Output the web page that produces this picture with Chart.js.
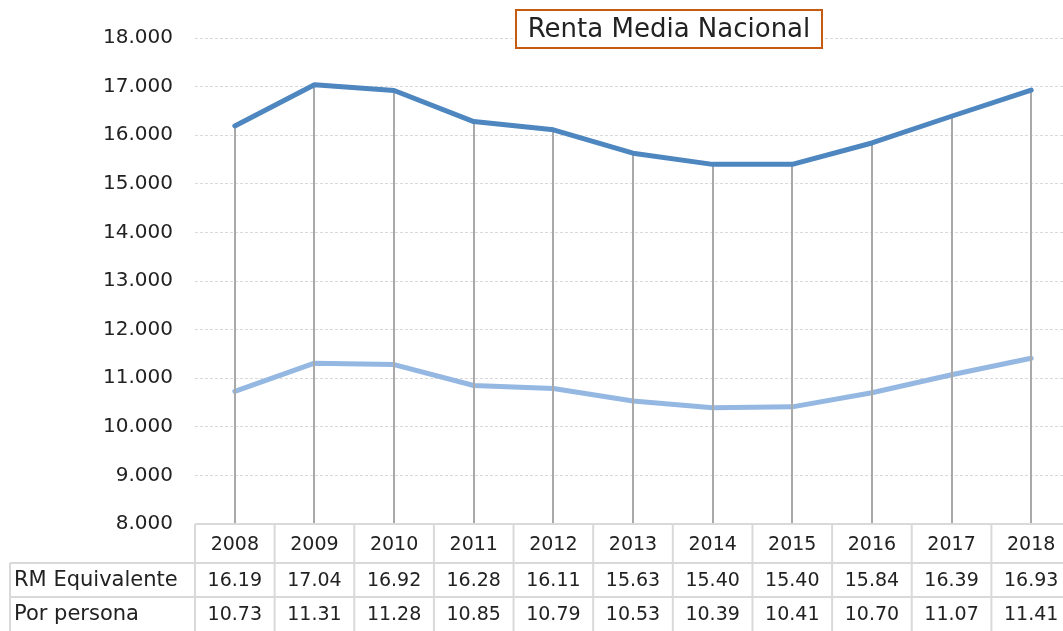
<!DOCTYPE html>
<html>
<head>
<meta charset="utf-8">
<script src="https://cdn.jsdelivr.net/npm/chart.js@4.4.1/dist/chart.umd.min.js"></script>
<style>
  html, body { margin: 0; padding: 0; background: #fff; overflow: hidden; }
  #wrap { width: 1071px; height: 631px; position: relative; }
</style>
</head>
<body>
<div id="wrap"><canvas id="chart"></canvas></div>
<script>
const years = ['2008', '2009', '2010', '2011', '2012', '2013', '2014', '2015', '2016', '2017', '2018'];
const rmEquivalente = [16190, 17040, 16920, 16280, 16110, 15630, 15400, 15400, 15840, 16390, 16930];
const porPersona = [10730, 11310, 11280, 10850, 10790, 10530, 10390, 10410, 10700, 11070, 11410];
const seriesNames = ['RM Equivalente', 'Por persona'];
const chartTitle = 'Renta Media Nacional';

const FONT = '"DejaVu Sans", "Open Sans", sans-serif';

function fmtThousands(v) {
  return Math.round(v).toString().replace(/\B(?=(\d{3})+(?!\d))/g, '.');
}

// vertical drop lines: drawn above the light series, below the dark one
const dropLines = {
  id: 'dropLines',
  afterDatasetDraw(chart, args) {
    if (args.index !== 1) return;
    const ctx = chart.ctx;
    const meta0 = chart.getDatasetMeta(0);
    const bottom = chart.chartArea.bottom;
    ctx.save();
    ctx.strokeStyle = '#a9a9a9';
    ctx.lineWidth = 2;
    meta0.data.forEach(function(pt) {
      ctx.beginPath();
      ctx.moveTo(Math.round(pt.x), pt.y);
      ctx.lineTo(Math.round(pt.x), bottom);
      ctx.stroke();
    });
    ctx.restore();
  }
};

// title with orange box
const boxedTitle = {
  id: 'boxedTitle',
  afterDraw(chart) {
    const ctx = chart.ctx;
    ctx.save();
    ctx.font = '26px ' + FONT;
    const cx = 669, cy = 29;
    const bw = 306, bh = 38;
    ctx.fillStyle = '#fff';
    ctx.fillRect(cx - bw / 2, cy - bh / 2, bw, bh);
    ctx.strokeStyle = '#c55a11';
    ctx.lineWidth = 2;
    ctx.strokeRect(cx - bw / 2, cy - bh / 2, bw, bh);
    ctx.fillStyle = '#222';
    ctx.textAlign = 'center';
    ctx.textBaseline = 'middle';
    ctx.fillText(chartTitle, cx, cy + 1);
    ctx.restore();
  }
};

// data table under the plot
const dataTable = {
  id: 'dataTable',
  afterDraw(chart) {
    const ctx = chart.ctx;
    const x = chart.scales.x;
    const area = chart.chartArea;
    const colW = (area.right - area.left) / years.length;
    const top = area.bottom;
    const rows = [top, top + 39, top + 73, top + 107];
    const labelLeft = 10;
    ctx.save();
    ctx.strokeStyle = '#d9d9d9';
    ctx.lineWidth = 2;
    ctx.beginPath();
    ctx.moveTo(area.left, rows[0]); ctx.lineTo(area.right, rows[0]);
    ctx.moveTo(labelLeft, rows[1]); ctx.lineTo(area.right, rows[1]);
    ctx.moveTo(labelLeft, rows[2]); ctx.lineTo(area.right, rows[2]);
    ctx.stroke();
    ctx.beginPath();
    for (let i = 0; i <= years.length; i++) {
      const lx = area.left + i * colW;
      ctx.moveTo(lx, rows[0]); ctx.lineTo(lx, rows[3]);
    }
    ctx.moveTo(labelLeft, rows[1]); ctx.lineTo(labelLeft, rows[3]);
    ctx.stroke();

    ctx.fillStyle = '#222';
    ctx.font = '19px ' + FONT;
    ctx.textBaseline = 'middle';
    ctx.textAlign = 'center';
    years.forEach(function(y, i) {
      const cx = x.getPixelForValue(i);
      ctx.fillText(y, cx, (rows[0] + rows[1]) / 2 + 2);
      ctx.fillText((rmEquivalente[i] / 1000).toFixed(2), cx, (rows[1] + rows[2]) / 2 + 1);
      ctx.fillText((porPersona[i] / 1000).toFixed(2), cx, (rows[2] + rows[3]) / 2 + 1);
    });
    ctx.textAlign = 'left';
    ctx.font = '21px ' + FONT;
    ctx.fillText(seriesNames[0], 14, (rows[1] + rows[2]) / 2 + 1);
    ctx.fillText(seriesNames[1], 14, (rows[2] + rows[3]) / 2 + 1);
    ctx.restore();
  }
};

new Chart(document.getElementById('chart'), {
  type: 'line',
  data: {
    labels: years,
    datasets: [{
      label: seriesNames[0],
      data: rmEquivalente,
      borderColor: '#4e86bf',
      borderWidth: 5,
      borderCapStyle: 'round',
      borderJoinStyle: 'round',
      pointRadius: 0,
      tension: 0
    }, {
      label: seriesNames[1],
      data: porPersona,
      borderColor: '#95b8e2',
      borderWidth: 5,
      borderCapStyle: 'round',
      borderJoinStyle: 'round',
      pointRadius: 0,
      tension: 0
    }]
  },
  options: {
    responsive: true,
    maintainAspectRatio: false,
    animation: false,
    layout: { padding: { top: 38, bottom: 107, right: 0, left: 0 } },
    plugins: {
      legend: { display: false },
      tooltip: { enabled: false },
      title: { display: false }
    },
    scales: {
      x: {
        display: false,
        offset: true
      },
      y: {
        min: 8000,
        max: 18000,
        ticks: {
          stepSize: 1000,
          padding: 22,
          color: '#222',
          font: { family: FONT, size: 20 },
          callback: function(value) { return fmtThousands(value); }
        },
        grid: { color: '#d9d9d9', lineWidth: 1, drawTicks: false },
        border: { display: false, dash: [3, 2] },
        afterFit: function(scale) { scale.width = 195; }
      }
    }
  },
  plugins: [dropLines, boxedTitle, dataTable]
});
</script>
</body>
</html>
